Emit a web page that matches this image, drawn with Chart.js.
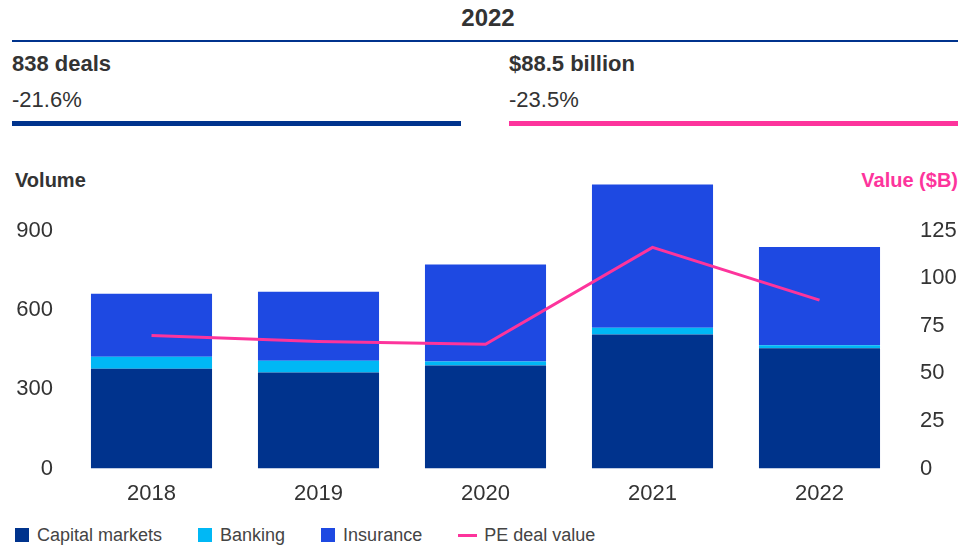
<!DOCTYPE html>
<html lang="en">
  <head>
    <meta charset="UTF-8" />
    <title>PE deals 2022</title>
    <script src="https://cdn.jsdelivr.net/npm/chart.js"></script>
    <style>
      body { margin: 0; width: 976px; height: 546px; position: relative; background: #fff;
             font-family: "Liberation Sans", Arial, sans-serif; color: #333; overflow: hidden; }
      .abs { position: absolute; white-space: nowrap; }
      #legend { position: absolute; left: 15px; top: 526px; display: flex; font-size: 18px; color: #444; line-height: 18px; }
      #legend .item { display: flex; align-items: center; margin-right: 36px; }
      #legend .box { width: 14px; height: 14px; margin-right: 8px; }
      #legend .line { width: 19px; height: 3px; margin-right: 7px; }
    </style>
  </head>
  <body>
    <div class="abs" style="left:0;width:976px;top:6px;text-align:center;font-size:24px;line-height:24px;font-weight:bold;">2022</div>
    <div class="abs" style="left:12px;width:946px;top:40px;height:2px;background:#00338d;"></div>

    <div class="abs" style="left:12px;top:53px;font-size:22px;line-height:22px;font-weight:bold;">838 deals</div>
    <div class="abs" style="left:12px;top:89px;font-size:22px;line-height:22px;">-21.6%</div>
    <div class="abs" style="left:12px;width:449px;top:121px;height:5px;background:#00338d;"></div>

    <div class="abs" style="left:509px;top:53px;font-size:22px;line-height:22px;font-weight:bold;">$88.5 billion</div>
    <div class="abs" style="left:509px;top:89px;font-size:22px;line-height:22px;">-23.5%</div>
    <div class="abs" style="left:509px;width:449px;top:121px;height:5px;background:#fd349c;"></div>

    <div class="abs" style="left:15px;top:170px;font-size:20px;line-height:20px;font-weight:bold;">Volume</div>
    <div class="abs" style="right:18px;top:170px;font-size:20px;line-height:20px;font-weight:bold;color:#fd349c;">Value ($B)</div>

    <div style="position:absolute;left:0;top:150px;width:976px;height:372px;">
      <canvas id="myChart"></canvas>
    </div>
    <div id="legend"></div>

    <script>
      const years = ["2018", "2019", "2020", "2021", "2022"];

      // deal counts by sector (stacked)
      const capitalMarkets = [378, 363, 390, 507, 455];
      const banking = [45, 45, 15, 26, 11];
      const insurance = [238, 261, 367, 541, 372];

      // PE deal value in $B (right axis)
      const peDealValue = [69.9, 66.7, 65.3, 116.2, 88.5];

      const volumeTicks = [0, 300, 600, 900];
      const valueTicks = [0, 25, 50, 75, 100, 125];

      const tickFont = { family: "'Liberation Sans', Arial, sans-serif", size: 22 };

      const ctx = document.getElementById("myChart").getContext("2d");
      const chart = new Chart(ctx, {
        type: "bar",
        data: {
          labels: years,
          datasets: [
            { label: "Capital markets", data: capitalMarkets, backgroundColor: "#00338d", order: 1 },
            { label: "Banking", data: banking, backgroundColor: "#00b8f5", order: 1 },
            { label: "Insurance", data: insurance, backgroundColor: "#1e49e2", order: 1 },
            {
              type: "line",
              label: "PE deal value",
              data: peDealValue,
              yAxisID: "y1",
              borderColor: "#fd349c",
              backgroundColor: "#fd349c",
              borderWidth: 3,
              pointRadius: 0,
              tension: 0,
              order: 0,
            },
          ],
        },
        options: {
          responsive: true,
          maintainAspectRatio: false,
          animation: false,
          layout: { padding: { top: 33, bottom: 3, left: 0, right: 0 } },
          datasets: { bar: { barPercentage: 0.725, categoryPercentage: 1 } },
          plugins: { legend: { display: false }, tooltip: { enabled: false } },
          scales: {
            x: {
              stacked: true,
              grid: { display: false, drawTicks: false },
              border: { display: false },
              ticks: { color: "#333", font: tickFont, padding: 12 },
            },
            y: {
              stacked: true,
              min: 0,
              max: 1080,
              grid: { display: false, drawTicks: false },
              border: { display: false },
              ticks: { color: "#333", font: tickFont, padding: 15 },
              afterBuildTicks: (scale) => {
                scale.ticks = volumeTicks.map((v) => ({ value: v }));
              },
              afterFit: (scale) => {
                scale.width = 68;
              },
            },
            y1: {
              position: "right",
              min: 0,
              max: 150,
              grid: { display: false, drawTicks: false },
              border: { display: false },
              ticks: { color: "#333", font: tickFont, padding: 17 },
              afterBuildTicks: (scale) => {
                scale.ticks = valueTicks.map((v) => ({ value: v }));
              },
              afterFit: (scale) => {
                scale.width = 73;
              },
            },
          },
        },
      });

      // simple html legend from the datasets
      const legend = document.getElementById("legend");
      chart.data.datasets.forEach((ds) => {
        const item = document.createElement("div");
        item.className = "item";
        const mark = document.createElement("span");
        mark.className = ds.type === "line" ? "line" : "box";
        mark.style.background = ds.type === "line" ? ds.borderColor : ds.backgroundColor;
        const text = document.createElement("span");
        text.textContent = ds.label;
        item.appendChild(mark);
        item.appendChild(text);
        legend.appendChild(item);
      });
    </script>
  </body>
</html>
